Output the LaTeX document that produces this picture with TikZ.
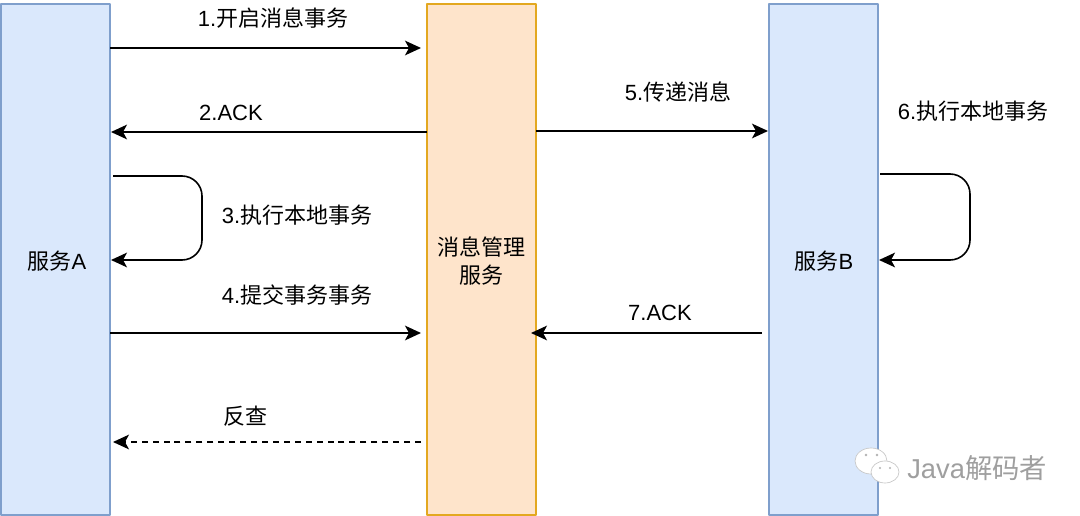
\documentclass[tikz,border=0pt]{standalone}
\usepackage{fontspec}
\setmainfont{Liberation Sans}
\newfontfamily\cjk{Noto Sans CJK SC}
\usetikzlibrary{arrows.meta}
\definecolor{bluefill}{HTML}{DAE8FC}
\definecolor{bluedraw}{HTML}{7F9FCC}
\definecolor{orangefill}{HTML}{FEE4CB}
\definecolor{orangedraw}{HTML}{E3A820}
\tikzset{
  service/.style={draw=bluedraw, fill=bluefill, line width=1.5pt, minimum width=81.5pt, minimum height=383.5pt, inner sep=0pt, align=center},
  manager/.style={service, draw=orangedraw, fill=orangefill},
  msg/.style={->, line width=1.2pt},
  label/.style={font=\fontsize{16.5}{20.5}\selectfont, inner sep=0pt},
}
\begin{document}
\begin{tikzpicture}[x=0.75pt, y=-0.75pt, >={Stealth[length=12pt,width=11pt,inset=3pt]}, line join=round]
\useasboundingbox (0,0) rectangle (1080,516);
\clip (0,0) rectangle (1080,516);
\node[service] (servicea) at (55.5,259.5) {};
\node[manager] (manager) at (481.5,259.5) {};
\node[service] (serviceb) at (823.5,259.5) {};
\node[label] (namea) at (57,261) {{\cjk 服务}A};
\node[label, align=center] (namem) at (481,261) {{\cjk 消息管理}\\{\cjk 服务}};
\node[label] (nameb) at (824,261) {{\cjk 服务}B};
% ends of the arrows
\coordinate (a1) at (110,48);
\coordinate (m1) at (421,48);
\coordinate (m2) at (427,132);
\coordinate (a2) at (111,132);
\coordinate (a3) at (113,176);
\coordinate (a3r) at (202,176);
\coordinate (a3e) at (111,260);
\coordinate (a4) at (110,333);
\coordinate (m4) at (421,333);
\coordinate (m5) at (536,131);
\coordinate (b5) at (768,131);
\coordinate (b6) at (880,174);
\coordinate (b6r) at (970,174);
\coordinate (b6e) at (879,260);
\coordinate (b7) at (762,333);
\coordinate (m7) at (531,333);
\coordinate (m8) at (421,442);
\coordinate (a8) at (113,442);
\draw[msg] (a1) -- (m1);
\draw[msg] (m2) -- (a2);
\draw[msg, rounded corners=15pt] (a3) -- (a3r) -- (a3r |- a3e) -- (a3e);
\draw[msg] (a4) -- (m4);
\draw[msg] (m5) -- (b5);
\draw[msg, rounded corners=15pt] (b6) -- (b6r) -- (b6r |- b6e) -- (b6e);
\draw[msg] (b7) -- (m7);
\draw[msg, line width=1pt, dash pattern=on 4.5pt off 3.7pt] (m8) -- (a8);
% labels
\node[label] (text1) at (273,18) {1.{\cjk 开启消息事务}};
\node[label] (text2) at (231,113) {2.ACK};
\node[label] (text3) at (297,215) {3.{\cjk 执行本地事务}};
\node[label] (text4) at (297,295) {4.{\cjk 提交事务事务}};
\node[label] (text5) at (678,92) {5.{\cjk 传递消息}};
\node[label] (text6) at (973,111) {6.{\cjk 执行本地事务}};
\node[label] (text7) at (660,313) {7.ACK};
\node[label] (text8) at (245,416) {{\cjk 反查}};
% watermark
\draw[gray!45, fill=white, line width=0.5pt] (871,461) ellipse (16 and 13);
\draw[gray!45, fill=white, line width=0.5pt] (885,472) ellipse (14 and 11);
\fill[gray!60] (866,455) circle (1.3) (877,455) circle (1.3) (880,468) circle (1.2) (890,468) circle (1.2);
\node[label, text=gray!75, font=\fontsize{20.5}{24}\selectfont, anchor=west] (mark) at (907,468) {Java{\cjk 解码者}};
\end{tikzpicture}
\end{document}
